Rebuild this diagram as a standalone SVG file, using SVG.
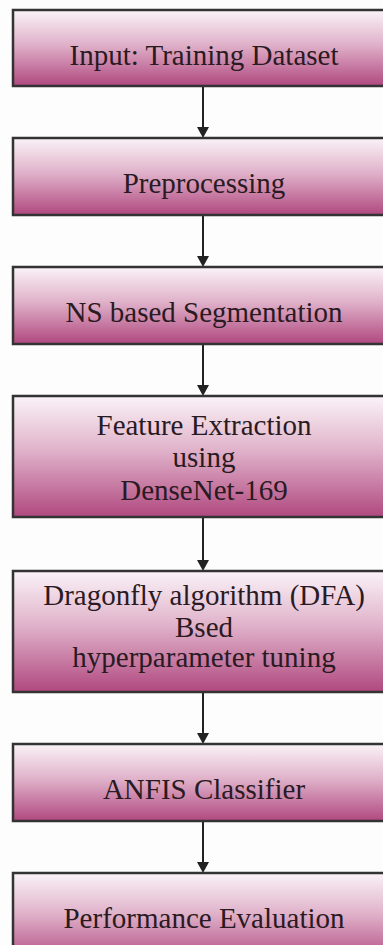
<svg xmlns="http://www.w3.org/2000/svg" width="383" height="945" viewBox="0 0 383 945">
<defs>
<linearGradient id="g" x1="0" y1="0" x2="0" y2="1">
<stop offset="0" stop-color="#faf3f7"/>
<stop offset="0.45" stop-color="#e0b2ca"/>
<stop offset="1" stop-color="#b0487f"/>
</linearGradient>
</defs>
<style>
.box{fill:url(#g);stroke:#333;stroke-width:2.5}
.t{font-size:29px;fill:#2a1a22;text-anchor:middle}
.c{stroke:#222;stroke-width:2;fill:none}
</style>
<rect width="383" height="945" fill="#fdfdfd"/>
<g id="connectors">
<line class="c" x1="203" y1="86" x2="203" y2="127"/><path d="M197,127 L209,127 L203,138 Z" fill="#222"/>
<line class="c" x1="203" y1="215" x2="203" y2="256"/><path d="M197,256 L209,256 L203,267 Z" fill="#222"/>
<line class="c" x1="203" y1="344" x2="203" y2="385"/><path d="M197,385 L209,385 L203,396 Z" fill="#222"/>
<line class="c" x1="203" y1="517" x2="203" y2="560"/><path d="M197,560 L209,560 L203,571 Z" fill="#222"/>
<line class="c" x1="203" y1="692" x2="203" y2="733"/><path d="M197,733 L209,733 L203,744 Z" fill="#222"/>
<line class="c" x1="203" y1="821" x2="203" y2="862"/><path d="M197,862 L209,862 L203,873 Z" fill="#222"/>
</g>
<g font-family="'Liberation Serif', 'DejaVu Serif', serif">
<g id="n1"><rect class="box" x="13" y="10" width="380" height="76"/><text class="t" x="204" y="65">Input: Training Dataset</text></g>
<g id="n2"><rect class="box" x="13" y="138" width="380" height="77"/><text class="t" x="204" y="193">Preprocessing</text></g>
<g id="n3"><rect class="box" x="13" y="267" width="380" height="77"/><text class="t" x="204" y="322">NS based Segmentation</text></g>
<g id="n4"><rect class="box" x="13" y="396" width="380" height="121"/><text class="t" x="204" y="435">Feature Extraction</text><text class="t" x="204" y="467">using</text><text class="t" x="204" y="500">DenseNet-169</text></g>
<g id="n5"><rect class="box" x="13" y="571" width="380" height="121"/><text class="t" x="204" y="605">Dragonfly algorithm (DFA)</text><text class="t" x="204" y="637">Bsed</text><text class="t" x="204" y="667">hyperparameter tuning</text></g>
<g id="n6"><rect class="box" x="13" y="744" width="380" height="77"/><text class="t" x="204" y="799">ANFIS Classifier</text></g>
<g id="n7"><rect class="box" x="13" y="873" width="380" height="90"/><text class="t" x="204" y="928">Performance Evaluation</text></g>
</g>
</svg>
